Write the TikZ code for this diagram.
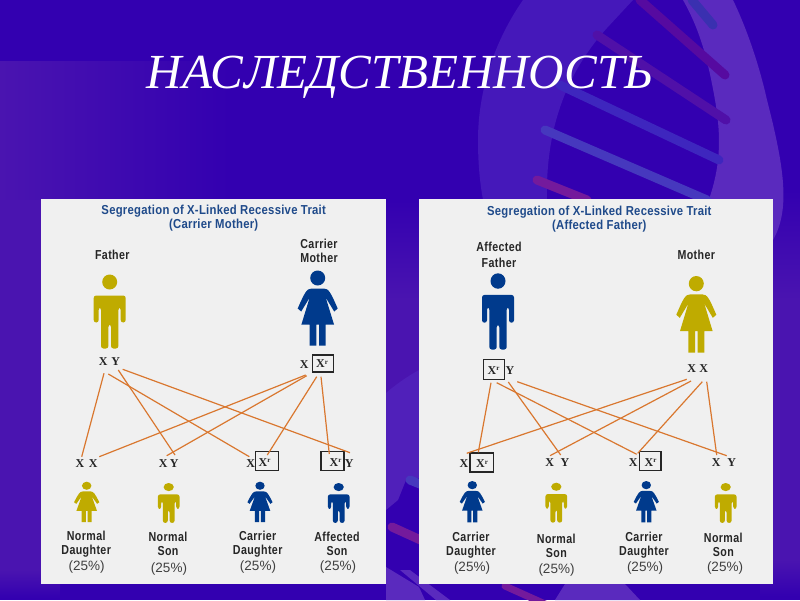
\documentclass[tikz,border=0pt]{standalone}
\usepackage{fontspec}
\setmainfont{Liberation Serif}
\newfontfamily\labfont[FakeStretch=.82,LetterSpace=3]{Liberation Sans}
\newfontfamily\chartfont[FakeStretch=.87,LetterSpace=2]{Liberation Sans}
\newfontfamily\pctfont{Liberation Sans}
\definecolor{basebg}{HTML}{3300B0}
\definecolor{bandbg}{HTML}{4A14B0}
\definecolor{stranda}{HTML}{4518BA}
\definecolor{strandb}{HTML}{5A2ABE}
\definecolor{panelbg}{HTML}{F0F0F0}
\definecolor{gold}{HTML}{BFAB00}
\definecolor{navy}{HTML}{003A8C}
\definecolor{charttitle}{HTML}{1F4A8A}
\definecolor{linkc}{HTML}{D9772F}
\definecolor{runga}{HTML}{560AA0}
\definecolor{rungb}{HTML}{5010A8}
\definecolor{rungc}{HTML}{3E26BE}
\definecolor{rungd}{HTML}{4638BE}
\definecolor{runge}{HTML}{741A9C}
\definecolor{rungf}{HTML}{3A30B0}
\tikzset{
  rung/.style={line width=#1,line cap=round},
  panel/.style={fill=panelbg,draw=none},
  conn/.style={draw=linkc,line width=1.2pt},
  lab/.style={font=\labfont\bfseries\fontsize{13}{14}\selectfont,text=black!85,align=center,inner sep=0pt},
  pct/.style={font=\pctfont\fontsize{13.5}{14}\selectfont,text=black!75,inner sep=0pt},
  chart/.style={font=\chartfont\bfseries\fontsize{13}{14}\selectfont,text=charttitle,align=center,inner sep=0pt},
  gene/.style={font=\bfseries\fontsize{12}{12}\selectfont,text=black!85,inner sep=0pt},
  gbox/.style={draw=black!85,line width=1.2pt,inner sep=0pt},
  pics/manfig/.style={code={
    \fill[#1] (0,7.5) circle (7.5);
    \fill[#1,rounded corners=2.5pt] (-16,48)--(-16,21)--(16,21)--(16,48)--(11,48)--(11,33)--(8.7,33)
      --(8.7,74)--(1.3,74)--(1.3,50)--(-1.3,50)--(-1.3,74)--(-8.7,74)--(-8.7,33)--(-11,33)--(-11,48)--cycle;
  }},
  pics/womanfig/.style={code={
    \fill[#1] (0,7.5) circle (7.5);
    \fill[#1] (-6,18) -- (6,18) .. controls (11,18) and (13,22) .. (20,38) -- (16.5,41) -- (8,27)
      -- (16.3,54) -- (8,54) -- (8,75) -- (1.3,75) -- (1.3,54) -- (-1.3,54) -- (-1.3,75) -- (-8,75) -- (-8,54)
      -- (-16.3,54) -- (-8,27) -- (-16.5,41) -- (-20,38) .. controls (-13,22) and (-11,18) .. (-6,18) -- cycle;
  }},
}
\newcommand{\xr}{X\raisebox{.7ex}{\fontsize{7}{7}\selectfont r}}
\begin{document}
\begin{tikzpicture}[x=1pt,y=-1pt]
\useasboundingbox (0,0) rectangle (800,600);
% background
\fill[basebg] (0,0) rectangle (800,600);
\shade[left color=bandbg,right color=basebg] (0,61) rectangle (230,205);
\fill[bandbg] (0,200) rectangle (41,570);
\shade[top color=bandbg,bottom color=basebg] (0,570) rectangle (60,598);
\shade[top color=basebg,bottom color=bandbg] (760,190) rectangle (800,300);
\fill[bandbg] (760,300) rectangle (800,560);
\shade[top color=bandbg,bottom color=basebg] (760,560) rectangle (800,596);
\shade[top color=basebg,bottom color=bandbg] (386,200) rectangle (419,300);
\fill[bandbg] (386,300) rectangle (419,400);
% DNA strands
\fill[stranda] (523,0) .. controls (495,40) and (478,90) .. (478,140) .. controls (478,170) and (481,190) .. (484,205)
  -- (547,205) .. controls (545,140) and (560,80) .. (607,28) -- (633,0) -- cycle;
\fill[strandb] (683,0) .. controls (700,30) and (708,60) .. (715,100) .. controls (722,140) and (720,170) .. (707,205)
  -- (700,240) -- (773,240) .. controls (790,210) and (785,170) .. (767,100) .. controls (758,60) and (745,25) .. (733,0) -- cycle;
\fill[strandb!75!basebg] (386,393) .. controls (395,385) and (408,376) .. (419,370) -- (419,478) -- (406,480) -- (398,500) -- (386,510) -- cycle;
\fill[strandb] (386,567) -- (419,587) -- (425,600) -- (386,600) -- cycle;
\fill[strandb] (400,570) -- (410,570) -- (450,600) -- (436,600) -- cycle;
\fill[strandb] (565,584) -- (625,584) -- (640,600) -- (555,600) -- cycle;
% DNA rungs
\draw[rung=9pt,color=rungf] (692,0) -- (713,25);
\draw[rung=9pt,color=runga] (640,0) -- (725,75);
\draw[rung=9pt,color=rungb] (597,35) -- (726,120);
\draw[rung=9pt,color=rungc] (560,85) -- (719,160);
\draw[rung=9pt,color=rungd] (545,130) -- (707,200);
\draw[rung=9pt,color=runge] (537,180) -- (587,200);
\draw[rung=9pt,color=rungd] (410,480) -- (425,486);
\draw[rung=9pt,color=runge] (392,527) -- (425,542);
\draw[rung=7pt,color=runge] (505,586) -- (545,604);
% title
\node[font=\itshape\fontsize{49}{49}\selectfont,text=white,inner sep=0pt] (title) at (400,77) {НАСЛЕДСТВЕННОСТЬ};
% panels
\fill[panel] (40.8,199) rectangle (386,584);
\fill[panel] (419,199) rectangle (773,583.5);
% left panel texts
\node[chart] (lt) at (213.7,218) {Segregation of X-Linked Recessive Trait\\(Carrier Mother)};
\node[lab] (lfa) at (112.3,255) {Father};
\node[lab] (lmo) at (319,251) {Carrier\\Mother};
\pic at (109.7,274.5) {manfig=gold};
\pic at (317.7,270.5) {womanfig=navy};
\node[gene] (lx1) at (103.3,361.7) {X};
\node[gene] (ly1) at (115.7,361.7) {Y};
\node[gene] (lx2) at (304.3,365) {X};
\node[gbox,minimum width=21pt,minimum height=17pt] (lb2) at (322.7,363.5) {};
\node[gene] (lx2r) at (322,364) {\xr};
\node[gene] (lc1a) at (80,463.3) {X};
\node[gene] (lc1b) at (93.3,463.3) {X};
\node[gene] (lc2a) at (163.3,463.3) {X};
\node[gene] (lc2b) at (174.3,463.3) {Y};
\node[gene] (lc3a) at (250.7,463.3) {X};
\node[gbox,minimum width=23pt,minimum height=18.5pt] (lb3) at (266.7,461) {};
\node[gene] (lc3b) at (264.5,462.5) {\xr};
\node[gbox,minimum width=23pt,minimum height=18.5pt] (lb4) at (332.4,461) {};
\node[gene] (lc4a) at (335.5,462.5) {\xr};
\node[gene] (lc4b) at (349.3,463.3) {Y};
\pic[xscale=.63,yscale=.54] at (86.7,481.7) {womanfig=gold};
\pic[xscale=.68,yscale=.54] at (168.7,483) {manfig=gold};
\pic[xscale=.63,yscale=.54] at (260,481.7) {womanfig=navy};
\pic[xscale=.68,yscale=.54] at (338.7,483) {manfig=navy};
\node[lab] (ll1) at (86.2,543.7) {Normal\\Daughter};
\node[lab] (ll2) at (168,543.7) {Normal\\Son};
\node[lab] (ll3) at (257.7,543.7) {Carrier\\Daughter};
\node[lab] (ll4) at (337,543.7) {Affected\\Son};
\node[pct] (lp1) at (86.7,566.7) {(25\%)};
\node[pct] (lp2) at (169,569) {(25\%)};
\node[pct] (lp3) at (258,566.7) {(25\%)};
\node[pct] (lp4) at (338,566.7) {(25\%)};
% left connectors
\coordinate (a1) at (104,373.3); \coordinate (a1e) at (81.7,456.7);
\coordinate (a2) at (108.3,374); \coordinate (a2e) at (249.3,456.7);
\coordinate (a3) at (118.3,370); \coordinate (a3e) at (175,455);
\coordinate (a4) at (122.7,369.3); \coordinate (a4e) at (350,452.7);
\coordinate (b1) at (305.7,375); \coordinate (b1e) at (99.3,456.7);
\coordinate (b2) at (306.7,375.7); \coordinate (b2e) at (166.7,455.7);
\coordinate (b3) at (316.7,376.7); \coordinate (b3e) at (267.3,455);
\coordinate (b4) at (321,376.7); \coordinate (b4e) at (329.3,454);
\draw[conn] (a1) -- (a1e);
\draw[conn] (a2) -- (a2e);
\draw[conn] (a3) -- (a3e);
\draw[conn] (a4) -- (a4e);
\draw[conn] (b1) -- (b1e);
\draw[conn] (b2) -- (b2e);
\draw[conn] (b3) -- (b3e);
\draw[conn] (b4) -- (b4e);
% right panel texts
\node[chart] (rt) at (599.3,219.5) {Segregation of X-Linked Recessive Trait\\(Affected Father)};
\node[lab] (rfa) at (499,255.3) {Affected\\[2pt]Father};
\node[lab] (rmo) at (696.3,255.3) {Mother};
\pic[yscale=1.03] at (498,273.3) {manfig=navy};
\pic[yscale=1.02] at (696.3,276) {womanfig=gold};
\node[gbox,minimum width=21pt,minimum height=20pt] (rb1) at (493.8,369.3) {};
\node[gene] (rx1) at (493.5,370.5) {\xr};
\node[gene] (ry1) at (510,371) {Y};
\node[gene] (rx2) at (691.7,368.3) {X};
\node[gene] (ry2) at (703.7,368.3) {X};
\node[gene] (rc1a) at (464,464) {X};
\node[gbox,minimum width=23.7pt,minimum height=19pt] (rb3) at (481.8,462.5) {};
\node[gene] (rc1b) at (482,464) {\xr};
\node[gene] (rc2a) at (549.7,463) {X};
\node[gene] (rc2b) at (565,463) {Y};
\node[gene] (rc3a) at (633.3,463) {X};
\node[gbox,minimum width=21.7pt,minimum height=18.6pt] (rb4) at (650.2,461) {};
\node[gene] (rc3b) at (650.5,462.5) {\xr};
\node[gene] (rc4a) at (716.3,463) {X};
\node[gene] (rc4b) at (731.7,463) {Y};
\pic[xscale=.63,yscale=.55] at (472.3,481) {womanfig=navy};
\pic[xscale=.68,yscale=.54] at (556.3,482.7) {manfig=gold};
\pic[xscale=.63,yscale=.55] at (646.3,481) {womanfig=navy};
\pic[xscale=.68,yscale=.54] at (725.7,483) {manfig=gold};
\node[lab] (rl1) at (471,544.7) {Carrier\\Daughter};
\node[lab] (rl2) at (556.3,546.2) {Normal\\Son};
\node[lab] (rl3) at (644,544.7) {Carrier\\Daughter};
\node[lab] (rl4) at (723.3,544.7) {Normal\\Son};
\node[pct] (rp1) at (472,568.3) {(25\%)};
\node[pct] (rp2) at (556.5,570) {(25\%)};
\node[pct] (rp3) at (645,568.3) {(25\%)};
\node[pct] (rp4) at (725,568.3) {(25\%)};
% right connectors
\coordinate (c1) at (491,382.7); \coordinate (c1e) at (478.3,452.3);
\coordinate (c2) at (496.7,382.7); \coordinate (c2e) at (636.7,454.3);
\coordinate (c3) at (508.3,382); \coordinate (c3e) at (560.7,455);
\coordinate (c4) at (517.3,381.7); \coordinate (c4e) at (726.7,455.7);
\coordinate (d1) at (686.7,379.3); \coordinate (d1e) at (466.7,453.3);
\coordinate (d2) at (691,381); \coordinate (d2e) at (550,455.7);
\coordinate (d3) at (702.3,381.7); \coordinate (d3e) at (637.7,453.3);
\coordinate (d4) at (706.7,381.7); \coordinate (d4e) at (716.7,455);
\draw[conn] (c1) -- (c1e);
\draw[conn] (c2) -- (c2e);
\draw[conn] (c3) -- (c3e);
\draw[conn] (c4) -- (c4e);
\draw[conn] (d1) -- (d1e);
\draw[conn] (d2) -- (d2e);
\draw[conn] (d3) -- (d3e);
\draw[conn] (d4) -- (d4e);
\end{tikzpicture}
\end{document}
